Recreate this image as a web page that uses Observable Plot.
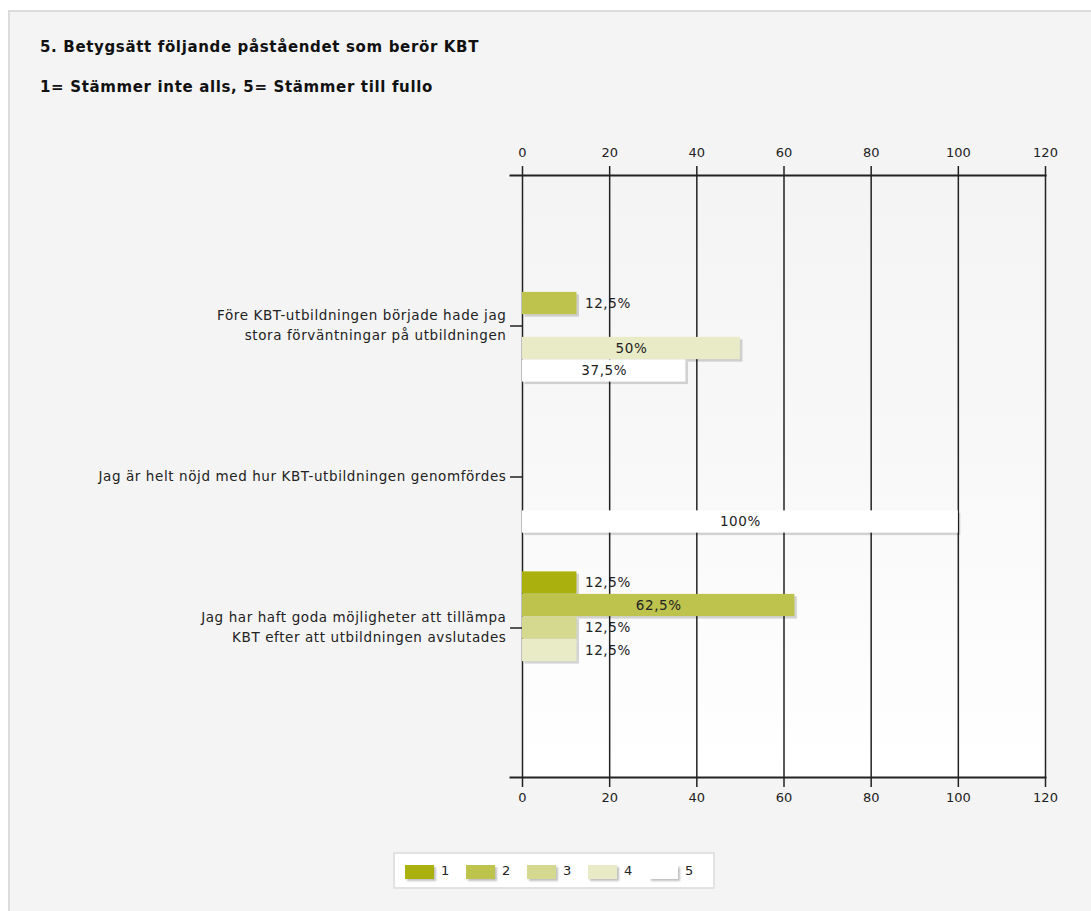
<!DOCTYPE html>
<html>
<head>
<meta charset="utf-8">
<script src="https://cdn.jsdelivr.net/npm/d3@7"></script>
<script src="https://cdn.jsdelivr.net/npm/@observablehq/plot@0.6"></script>
<style>
  html, body { margin: 0; padding: 0; background: #fff; width: 1091px; height: 911px; overflow: hidden; }
  #panel { position: absolute; left: 8px; top: 10px; width: 1083px; height: 901px; background: #f4f4f4;
           border-left: 2px solid #dcdcdc; border-top: 2px solid #dcdcdc; box-sizing: border-box; }
  .title { position: absolute; left: 40px; font-family: "DejaVu Sans", Verdana, sans-serif; font-weight: bold;
           font-size: 15px; letter-spacing: 0.65px; line-height: 18px; color: #111; white-space: nowrap; }
  #chart { position: absolute; left: 0; top: 0; }
  #legend { position: absolute; left: 393px; top: 852px; width: 322px; height: 37px; box-sizing: border-box;
            background: #fff; border: 2px solid #e2e2e2; font-family: "DejaVu Sans", Verdana, sans-serif;
            font-size: 13px; color: #222; }
  .item { position: absolute; top: 9px; height: 16px; }
  .sw { position: absolute; top: 2px; left: 0; width: 29px; height: 14px; box-shadow: 2px 2px 2px rgba(0,0,0,0.25); }
  .lab { position: absolute; left: 36px; top: 0px; line-height: 16px; }
</style>
</head>
<body>
<div id="panel"></div>
<div class="title" style="top:38px">5. Betygsätt följande påståendet som berör KBT</div>
<div class="title" style="top:78px">1= Stämmer inte alls, 5= Stämmer till fullo</div>
<div id="chart"></div>
<div id="legend"></div>
<script>
// ---- data ----
const categories = [
  "Före KBT-utbildningen började hade jag stora förväntningar på utbildningen",
  "Jag är helt nöjd med hur KBT-utbildningen genomfördes",
  "Jag har haft goda möjligheter att tillämpa KBT efter att utbildningen avslutades"
];
const categoryLabels = [
  "Före KBT-utbildningen började hade jag\nstora förväntningar på utbildningen",
  "Jag är helt nöjd med hur KBT-utbildningen genomfördes",
  "Jag har haft goda möjligheter att tillämpa\nKBT efter att utbildningen avslutades"
];
const series = ["1", "2", "3", "4", "5"];
const values1 = [0, 0, 12.5];
const values2 = [12.5, 0, 62.5];
const values3 = [0, 0, 12.5];
const values4 = [50, 0, 12.5];
const values5 = [37.5, 100, 0];
const seriesValues = [values1, values2, values3, values4, values5];
const colors = ["#aab10e", "#bec34d", "#d5d98f", "#e8ebc6", "#ffffff"];
const xTicks = [0, 20, 40, 60, 80, 100, 120];

// ---- table ----
const rows = [];
series.forEach((s, i) => categories.forEach((c, j) => rows.push({category: c, series: s, si: i, value: seriesValues[i][j]})));
const fmt = v => String(v).replace(".", ",") + "%";

// ---- layout ----
const W = 1091, H = 830, mt = 175, mb = 53, ml = 522, mr = 46;
const pad = 0.49, bh = 22.5;
const bw = (H - mt - mb) / (categories.length + 2 * pad);
const top0 = (bw - series.length * bh) / 2;

const shadowMarks = [], barMarks = [], labelMarks = [];
series.forEach((s, i) => {
  const data = rows.filter(r => r.series === s && r.value > 0);
  const insetTop = top0 + i * bh, insetBottom = bw - insetTop - bh;
  shadowMarks.push(Plot.barX(data, {y: "category", x: "value", fill: "#000", fillOpacity: 0.16, dx: 2.5, dy: 2.5, insetTop, insetBottom}));
  barMarks.push(Plot.barX(data, {y: "category", x: "value", fill: colors[i], insetTop, insetBottom}));
  const dy = insetTop + bh / 2 - bw / 2;
  labelMarks.push(Plot.text(data.filter(d => d.value < 25), {y: "category", x: "value", text: d => fmt(d.value), textAnchor: "start", dx: 8, dy, fill: "#222", fontSize: 13.5}));
  labelMarks.push(Plot.text(data.filter(d => d.value >= 25), {y: "category", x: d => d.value / 2, text: d => fmt(d.value), textAnchor: "middle", dy, fill: "#222", fontSize: 13.5}));
});

const plot = Plot.plot({
  width: W, height: H,
  marginTop: mt, marginBottom: mb, marginLeft: ml, marginRight: mr,
  style: {background: "transparent", fontFamily: "DejaVu Sans, Verdana, sans-serif", fontSize: "13px", color: "#222"},
  x: {domain: [0, 120], label: null},
  y: {domain: categories, paddingInner: 0, paddingOuter: pad, align: 0.5, label: null},
  marks: [
    Plot.frame({fill: "url(#plotbg)", stroke: "none"}),
    Plot.gridX(xTicks, {stroke: "#222", strokeOpacity: 1, strokeWidth: 1.5}),
    ...shadowMarks,
    ...barMarks,
    ...labelMarks,
    Plot.axisX(xTicks, {anchor: "top", tickSize: 10, tickPadding: 9, stroke: "#222", strokeWidth: 1.5, label: null, fill: "#222", fontSize: 13}),
    Plot.axisX(xTicks, {anchor: "bottom", tickSize: 10, tickPadding: 5, stroke: "#222", strokeWidth: 1.5, label: null, fill: "#222", fontSize: 13}),
    Plot.axisY({tickSize: 12, tickFormat: () => "", stroke: "#222", strokeWidth: 1.5, label: null}),
    Plot.text(categories, {y: d => d, text: (d, i) => categoryLabels[i], frameAnchor: "left", textAnchor: "end", dx: -16, dy: -2, lineHeight: 1.48, fontSize: 13.5, fill: "#222"}),
    Plot.frame({anchor: "top", stroke: "#222", strokeWidth: 2, insetLeft: -12}),
    Plot.frame({anchor: "bottom", stroke: "#222", strokeWidth: 2, insetLeft: -12})
  ]
});

// letter spacing for the label texts (not the tick labels)
d3.select(plot).selectAll('g[aria-label="text"] text').style("letter-spacing", "0.6px");

// gradient background of plotting area
const ns = "http://www.w3.org/2000/svg";
const defs = document.createElementNS(ns, "defs");
defs.innerHTML = '<linearGradient id="plotbg" x1="0" y1="0" x2="0" y2="1">' +
  '<stop offset="0" stop-color="#f4f4f4"/><stop offset="0.45" stop-color="#f8f8f8"/><stop offset="1" stop-color="#ffffff"/></linearGradient>';
plot.insertBefore(defs, plot.firstChild);
document.getElementById("chart").appendChild(plot);

// legend
const legend = document.getElementById("legend");
series.forEach((s, i) => {
  const item = document.createElement("div");
  item.className = "item";
  item.style.left = (10 + i * 61) + "px";
  item.innerHTML = `<div class="sw" style="background:${colors[i]}"></div><div class="lab">${s}</div>`;
  legend.appendChild(item);
});
</script>
</body>
</html>
